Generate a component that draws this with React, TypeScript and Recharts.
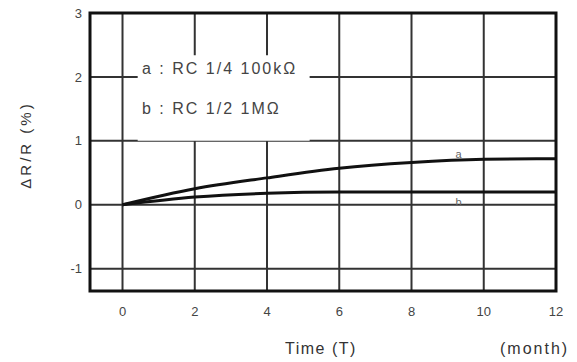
import React from "react"
import {
    LineChart,
    Line,
    XAxis,
    YAxis,
    CartesianGrid,
    ReferenceArea,
    ReferenceDot,
} from "recharts"

const months = [0, 2, 4, 6, 8, 10, 12]
const seriesA = [0, 0.25, 0.42, 0.57, 0.66, 0.71, 0.72]
const seriesB = [0, 0.12, 0.18, 0.2, 0.2, 0.2, 0.2]
const yTicks = [-1, 0, 1, 2, 3]
const legendLines = ["a : RC 1/4 100kΩ", "b : RC 1/2 1MΩ"]

const data = months.map((m, i) => ({ month: m, a: seriesA[i], b: seriesB[i] }))

const FONT = "'Liberation Sans', Arial, sans-serif"
const TEXT = "#444"

export default function App() {
    return (
        <div style={{ position: "absolute", left: 0, top: 0, width: 577, height: 362, background: "#fff", fontFamily: FONT }}>
            <LineChart width={577} height={362} data={data} margin={{ top: 13, right: 21, left: 0, bottom: 41 }}>
                <CartesianGrid stroke="#333" strokeWidth={2} />
                <XAxis
                    dataKey="month"
                    type="number"
                    domain={[-0.9, 12]}
                    ticks={months}
                    allowDataOverflow
                    axisLine={false}
                    tickLine={false}
                    tickMargin={10}
                    height={30}
                    tick={{ fill: TEXT, fontSize: 13, fontFamily: FONT }}
                />
                <YAxis
                    type="number"
                    domain={[-1.35, 3]}
                    ticks={yTicks}
                    allowDataOverflow
                    axisLine={false}
                    tickLine={false}
                    width={90}
                    tick={{ fill: TEXT, fontSize: 13, fontFamily: FONT }}
                />
                {/* white box behind the legend text, hides the grid there */}
                <ReferenceArea x1={0.42} x2={5.18} y1={1.0} y2={2.34} fill="#fff" fillOpacity={1} stroke="none" />
                <ReferenceArea x1={-0.9} x2={12} y1={-1.35} y2={3} fill="none" stroke="#111" strokeWidth={3} />
                <Line type="monotone" dataKey="a" stroke="#111" strokeWidth={3} dot={false} isAnimationActive={false} />
                <Line type="monotone" dataKey="b" stroke="#111" strokeWidth={3} dot={false} isAnimationActive={false} />
                <ReferenceDot x={9.3} y={0.8} r={0} fill="none" stroke="none"
                    label={{ value: "a", fill: "#666", fontSize: 11, fontFamily: FONT }} />
                <ReferenceDot x={9.3} y={0.04} r={0} fill="none" stroke="none"
                    label={{ value: "b", fill: "#666", fontSize: 11, fontFamily: FONT }} />
            </LineChart>
            {legendLines.map((t, i) => (
                <div key={t} style={{ position: "absolute", left: 142, top: 59 + i * 40, fontSize: 16, letterSpacing: 2, color: TEXT, whiteSpace: "nowrap", lineHeight: "20px" }}>
                    {t}
                </div>
            ))}
            <div style={{ position: "absolute", left: 25, top: 145, transform: "translate(-50%, -50%) rotate(-90deg)", fontSize: 15, letterSpacing: 3, color: "#333", whiteSpace: "nowrap" }}>
                ΔR/R (%)
            </div>
            <div style={{ position: "absolute", left: 285, top: 340, fontSize: 16, letterSpacing: 1.5, color: "#333", whiteSpace: "nowrap" }}>
                Time (T)
            </div>
            <div style={{ position: "absolute", left: 500, top: 340, fontSize: 16, letterSpacing: 2, color: "#333", whiteSpace: "nowrap" }}>
                (month)
            </div>
        </div>
    )
}
